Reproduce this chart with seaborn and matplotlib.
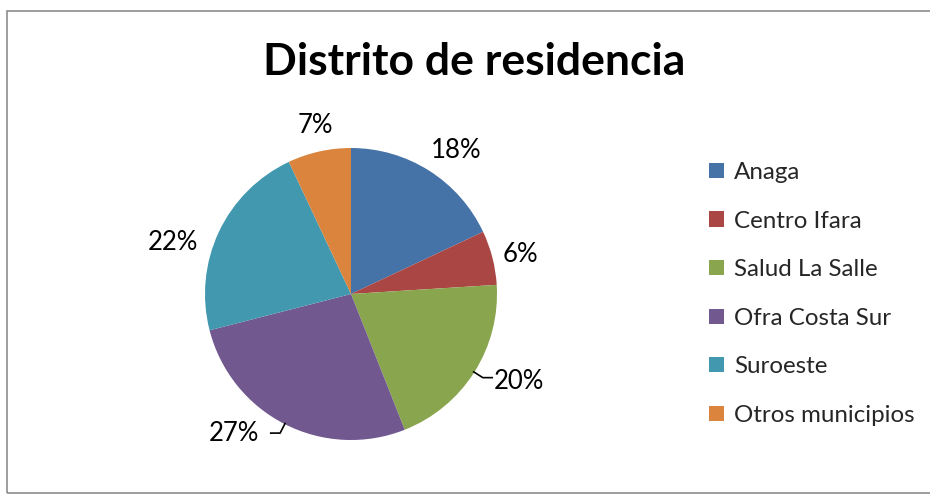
import matplotlib
matplotlib.use("Agg")
import matplotlib.pyplot as plt
from matplotlib.patches import Patch, Rectangle
import seaborn as sns
import numpy as np

# Datos
distritos = ["Anaga", "Centro Ifara", "Salud La Salle", "Ofra Costa Sur", "Suroeste", "Otros municipios"]
porcentajes = [18, 6, 20, 27, 22, 7]
colores = ["#4572A7", "#AA4643", "#89A54E", "#71588F", "#4198AF", "#DB843D"]

# ajustes de posicion de las etiquetas (distancia, desplazamiento angular)
dist_etiqueta = [1.22, 1.19, 1.30, 1.25, 1.27, 1.18]
giro_etiqueta = [-3.7, -1.4, 4.9, -13, 9.2, -0.8]
con_guia = [False, False, True, True, False, False]

sns.set_theme(style="white")
plt.rcParams["font.family"] = ["Lato", "DejaVu Sans"]

W, H = 930, 495
fig = plt.figure(figsize=(W / 100, H / 100), dpi=100)

# marco gris del grafico
fig.patches.append(Rectangle((6.5 / W, 2 / H), 1.2, 1 - 12.5 / H, transform=fig.transFigure,
                             fill=False, edgecolor="#8c8c8c", linewidth=1.2))

cx, cy, r = 351, 294, 146
ax = fig.add_axes([(cx - r) / W, 1 - (cy + r) / H, 2 * r / W, 2 * r / H])
paleta = sns.color_palette(colores)
wedges, texts, autotexts = ax.pie(porcentajes, colors=paleta, startangle=90, counterclock=False,
                                  autopct="%d%%", pctdistance=1.22,
                                  textprops=dict(fontsize=18.5, color="black"),
                                  wedgeprops=dict(linewidth=0))
ax.set_xlim(-1, 1)
ax.set_ylim(-1, 1)

for w, t, d, g, guia in zip(wedges, autotexts, dist_etiqueta, giro_etiqueta, con_guia):
    medio = np.deg2rad((w.theta1 + w.theta2) / 2)
    ang = medio + np.deg2rad(g)
    t.set_position((d * np.cos(ang), d * np.sin(ang)))
    t.set_ha("center")
    t.set_va("center")
    if guia:
        p0 = 0.99 * np.array([np.cos(medio), np.sin(medio)])
        p1 = 1.08 * p0
        sentido = 1 if p0[0] > 0 else -1
        p2 = p1 + np.array([sentido * 0.07, 0])
        ax.plot([p0[0], p1[0], p2[0]], [p0[1], p1[1], p2[1]], color="black", lw=1.2,
                clip_on=False, solid_capstyle="butt")

fig.text(474 / W, 1 - 62 / H, "Distrito de residencia", ha="center", va="center",
         fontsize=32, fontweight="bold", color="black")

handles = [Patch(facecolor=c, edgecolor="none") for c in paleta]
fig.legend(handles, distritos, loc="center left", bbox_to_anchor=(709 / W, 1 - 294 / H),
           frameon=False, fontsize=17.4, handlelength=0.6, handleheight=0.6,
           handletextpad=0.45, labelspacing=1.14, borderpad=0, borderaxespad=0)

fig.savefig("out.png", dpi=100)
